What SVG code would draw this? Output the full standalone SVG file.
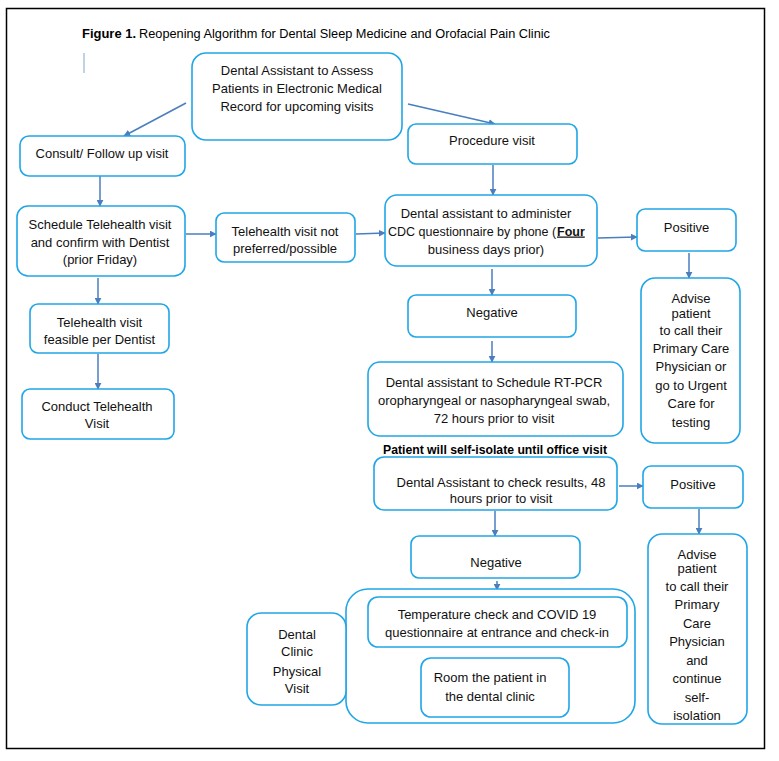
<svg xmlns="http://www.w3.org/2000/svg" width="779" height="761" viewBox="0 0 779 761">
<style>
.bg{fill:#fff}
.frame{fill:none;stroke:#000;stroke-width:1.5}
.box{fill:#fff;stroke:#21A6E6;stroke-width:1.6}
.t{font-family:"Liberation Sans",Arial,sans-serif;font-size:13px;fill:#111;text-anchor:middle}
.ts{font-family:"Liberation Sans",Arial,sans-serif;font-size:12.5px;fill:#111}
.title{font-family:"Liberation Sans Narrow","Liberation Sans",Arial,sans-serif;font-size:12.5px;fill:#000}
.c{fill:none;stroke:#4A7EBF;stroke-width:1.5;marker-end:url(#ah)}
</style>
<defs>
<marker id="ah" viewBox="0 0 10 10" refX="9" refY="5" markerWidth="7" markerHeight="7" markerUnits="userSpaceOnUse" orient="auto">
<path d="M0,0 L10,5 L0,10 z" fill="#4A7EBF"/>
</marker>
</defs>
<rect class="bg" x="0" y="0" width="779" height="761"/>
<rect class="frame" x="6.5" y="8.5" width="758" height="740"/>
<text class="title" x="82" y="38" font-weight="bold" textLength="54" lengthAdjust="spacingAndGlyphs">Figure 1.</text>
<text class="title" x="139" y="38" textLength="411" lengthAdjust="spacingAndGlyphs">Reopening Algorithm for Dental Sleep Medicine and Orofacial Pain Clinic</text>
<line x1="84" y1="53" x2="84" y2="73" stroke="#7FA7D0" stroke-width="1"/>

<g id="connectors">
<line class="c" x1="186" y1="103" x2="124" y2="136"/>
<line class="c" x1="408" y1="104" x2="495" y2="124"/>
<line class="c" x1="100" y1="172" x2="100" y2="206"/>
<line class="c" x1="186" y1="234" x2="216" y2="234"/>
<line class="c" x1="356" y1="234" x2="385" y2="233"/>
<line class="c" x1="98" y1="278" x2="98" y2="304"/>
<line class="c" x1="98" y1="354" x2="98" y2="389"/>
<line class="c" x1="493" y1="165" x2="493" y2="195"/>
<line class="c" x1="598" y1="238" x2="637" y2="237"/>
<line class="c" x1="689" y1="253" x2="689" y2="278"/>
<line class="c" x1="492" y1="269" x2="492" y2="295"/>
<line class="c" x1="492" y1="341" x2="492" y2="362"/>
<line class="c" x1="619" y1="486" x2="643" y2="486"/>
<line class="c" x1="495" y1="511" x2="495" y2="536"/>
<line class="c" x1="699" y1="509" x2="699" y2="534"/>
<line class="c" x1="497" y1="581" x2="497" y2="590"/>
<line x1="497" y1="589" x2="497" y2="596" stroke="#4A7EBF" stroke-width="1"/>
<line x1="499" y1="649" x2="499" y2="652" stroke="#4A7EBF" stroke-width="1"/>
</g>

<g id="n-assess">
<rect class="box" x="192" y="53" width="210" height="87" rx="14"/>
<text class="t" x="297" y="75">Dental Assistant to Assess</text>
<text class="t" x="297" y="93">Patients in Electronic Medical</text>
<text class="t" x="297" y="111">Record for upcoming visits</text>
</g>
<g id="n-consult">
<rect class="box" x="20" y="136" width="165" height="40" rx="9"/>
<text class="t" x="102" y="157.5">Consult/ Follow up visit</text>
</g>
<g id="n-schedule">
<rect class="box" x="17" y="206" width="168" height="70" rx="11"/>
<text class="t" x="100" y="229">Schedule Telehealth visit</text>
<text class="t" x="100" y="246.5">and confirm with Dentist</text>
<text class="t" x="100" y="264">(prior Friday)</text>
</g>
<g id="n-notpreferred">
<rect class="box" x="216" y="213" width="139" height="49" rx="8"/>
<text class="t" x="285" y="235.5">Telehealth visit not</text>
<text class="t" x="285" y="252.5">preferred/possible</text>
</g>
<g id="n-feasible">
<rect class="box" x="30" y="304" width="139" height="49" rx="8"/>
<text class="t" x="99.5" y="326.5">Telehealth visit</text>
<text class="t" x="99.5" y="344">feasible per Dentist</text>
</g>
<g id="n-conduct">
<rect class="box" x="22" y="389" width="152" height="50" rx="8"/>
<text class="t" x="97" y="411">Conduct Telehealth</text>
<text class="t" x="97" y="428">Visit</text>
</g>
<g id="n-procedure">
<rect class="box" x="408" y="124" width="169" height="40" rx="8"/>
<text class="t" x="492" y="144.5">Procedure visit</text>
</g>
<g id="n-cdc">
<rect class="box" x="385" y="195" width="212" height="71" rx="12"/>
<text class="t" x="486" y="218">Dental assistant to administer</text>
<text class="ts" x="388" y="235.5">CDC questionnaire by phone (</text>
<text class="ts" x="557" y="235.5" font-weight="bold" text-decoration="underline">Four</text>
<text class="t" x="486" y="253.5">business days prior)</text>
</g>
<g id="n-positive1">
<rect class="box" x="637" y="209" width="99" height="42" rx="8"/>
<text class="t" x="686.5" y="232">Positive</text>
</g>
<g id="n-advise1">
<rect class="box" x="641" y="278" width="99" height="165" rx="14"/>
<text class="t" x="691" y="302.5">Advise</text>
<text class="t" x="691" y="318">patient</text>
<text class="t" x="691" y="335">to call their</text>
<text class="t" x="691" y="353">Primary Care</text>
<text class="t" x="691" y="371">Physician or</text>
<text class="t" x="691" y="389.5">go to Urgent</text>
<text class="t" x="691" y="408">Care for</text>
<text class="t" x="691" y="426.5">testing</text>
</g>
<g id="n-negative1">
<rect class="box" x="408" y="295" width="168" height="42" rx="8"/>
<text class="t" x="492" y="316.5">Negative</text>
</g>
<g id="n-rtpcr">
<rect class="box" x="368" y="362" width="255" height="74" rx="12"/>
<text class="t" x="494" y="387">Dental assistant to Schedule RT-PCR</text>
<text class="t" x="494" y="405">oropharyngeal or nasopharyngeal swab,</text>
<text class="t" x="494" y="422.5">72 hours prior to visit</text>
</g>
<g id="n-isolate">
<text x="383" y="454" font-family="'Liberation Sans',Arial,sans-serif" font-size="12.5" font-weight="bold" fill="#000" textLength="224" lengthAdjust="spacingAndGlyphs">Patient will self-isolate until office visit</text>
</g>
<g id="n-check">
<rect class="box" x="374" y="457" width="243" height="53" rx="10"/>
<text class="t" x="501" y="486.5">Dental Assistant to check results, 48</text>
<text class="t" x="501" y="503">hours prior to visit</text>
</g>
<g id="n-positive2">
<rect class="box" x="643" y="466" width="100" height="42" rx="8"/>
<text class="t" x="693" y="489">Positive</text>
</g>
<g id="n-advise2">
<rect class="box" x="648" y="534" width="99" height="190" rx="14"/>
<text class="t" x="697" y="558.5">Advise</text>
<text class="t" x="697" y="572.5">patient</text>
<text class="t" x="697" y="590.5">to call their</text>
<text class="t" x="697" y="608.5">Primary</text>
<text class="t" x="697" y="627.5">Care</text>
<text class="t" x="697" y="645.5">Physician</text>
<text class="t" x="697" y="664.5">and</text>
<text class="t" x="697" y="682.5">continue</text>
<text class="t" x="697" y="701.5">self-</text>
<text class="t" x="697" y="720">isolation</text>
</g>
<g id="n-negative2">
<rect class="box" x="411" y="536" width="169" height="42" rx="8"/>
<text class="t" x="496" y="566.5">Negative</text>
</g>
<g id="n-visitgroup">
<rect class="box" x="346" y="589" width="289" height="134" rx="22"/>
</g>
<g id="n-temperature">
<rect class="box" x="368" y="597" width="259" height="50" rx="10"/>
<text class="t" x="497" y="619">Temperature check and COVID 19</text>
<text class="t" x="497" y="637">questionnaire at entrance and check-in</text>
</g>
<g id="n-room">
<rect class="box" x="421" y="658" width="148" height="59" rx="10"/>
<text class="t" x="490" y="682">Room the patient in</text>
<text class="t" x="490" y="700.5">the dental clinic</text>
</g>
<g id="n-clinic">
<rect class="box" x="247" y="613" width="99" height="92" rx="14"/>
<text class="t" x="297" y="639">Dental</text>
<text class="t" x="297" y="656">Clinic</text>
<text class="t" x="297" y="675.5">Physical</text>
<text class="t" x="297" y="693">Visit</text>
</g>
</svg>
